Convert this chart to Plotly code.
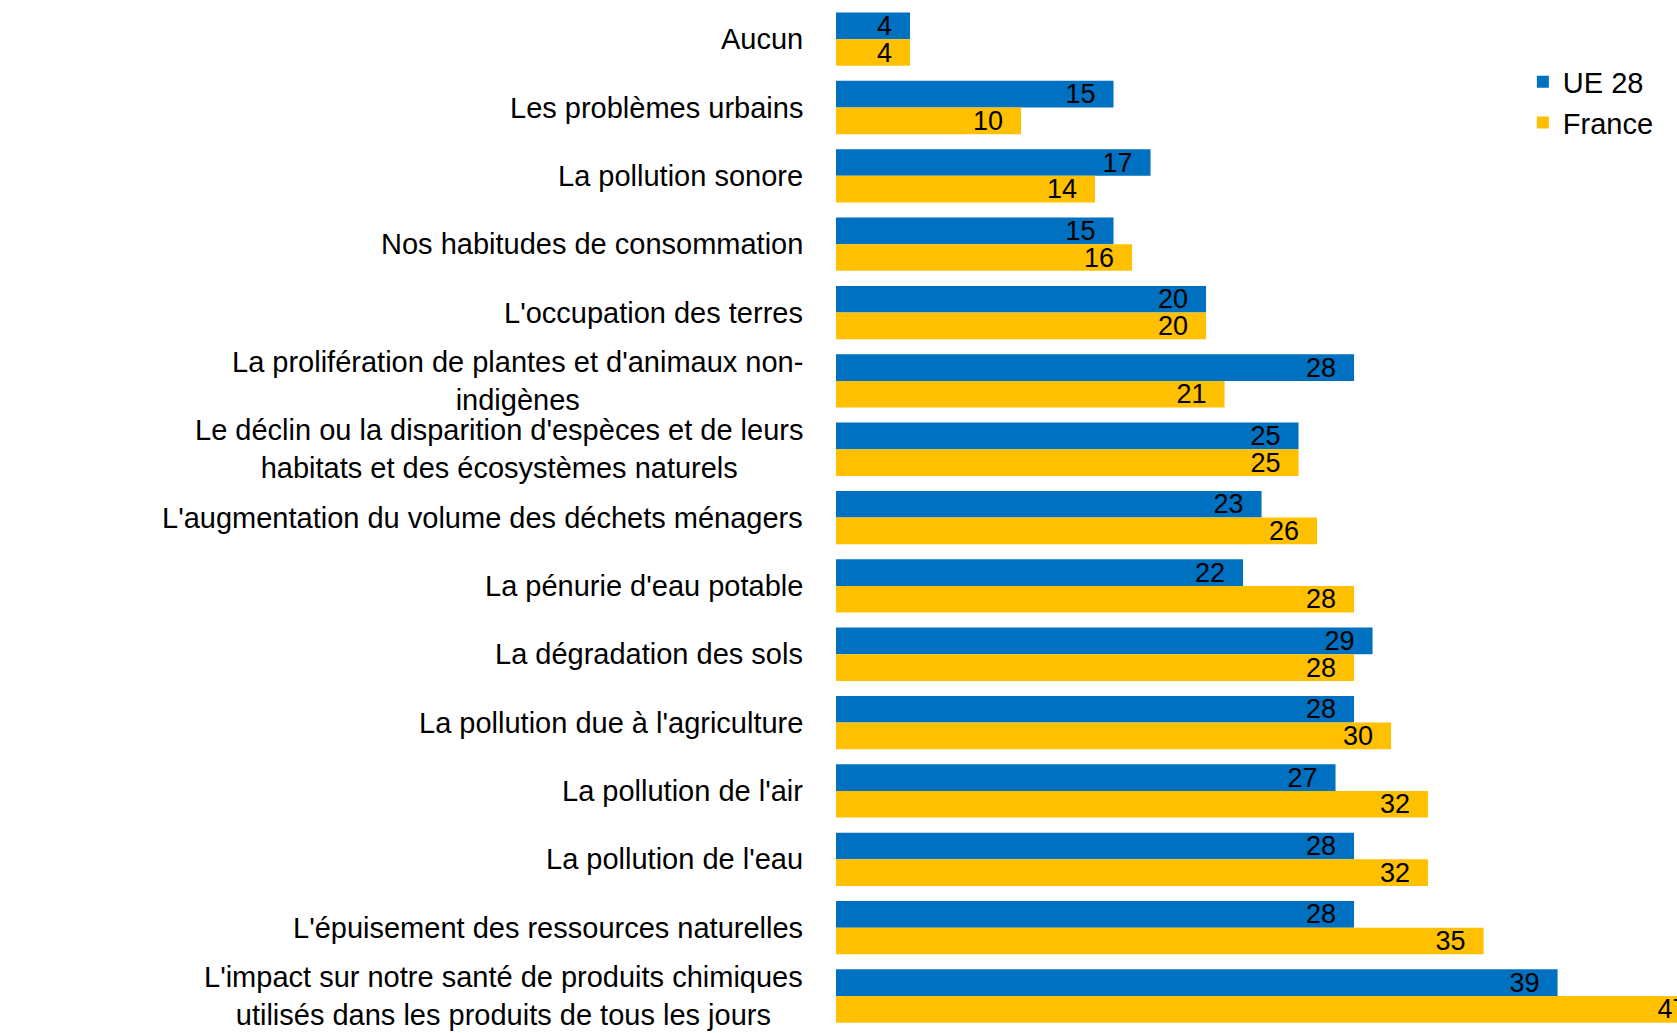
import plotly.graph_objects as go

ITEMS = [
    "Aucun",
    "Les problèmes urbains",
    "La pollution sonore",
    "Nos habitudes de consommation",
    "L'occupation des terres",
    "La prolifération de plantes et d'animaux non-<br>indigènes",
    "Le déclin ou la disparition d'espèces et de leurs<br>habitats et des écosystèmes naturels",
    "L'augmentation du volume des déchets ménagers",
    "La pénurie d'eau potable",
    "La dégradation des sols",
    "La pollution due à l'agriculture",
    "La pollution de l'air",
    "La pollution de l'eau",
    "L'épuisement des ressources naturelles",
    "L'impact sur notre santé de produits chimiques<br>utilisés dans les produits de tous les jours",
]
UE28 = [4, 15, 17, 15, 20, 28, 25, 23, 22, 29, 28, 27, 28, 28, 39]
FRANCE = [4, 10, 14, 16, 20, 21, 25, 26, 28, 28, 30, 32, 32, 35, 47]

FONT = "Liberation Sans, Arial, sans-serif"
BLUE = "#0070C0"
YELLOW = "#FFC000"

fig = go.Figure()
for name, vals, color in [("UE 28", UE28, BLUE), ("France", FRANCE, YELLOW)]:
    fig.add_trace(
        go.Bar(
            y=ITEMS,
            x=vals,
            name=name,
            orientation="h",
            marker=dict(color=color, line=dict(width=0)),
            texttemplate="%{x}\u00a0\u00a0",  # marge avant le bout de la barre
            textposition="inside",
            insidetextanchor="end",
            textangle=0,
            constraintext="none",
            textfont=dict(family=FONT, size=27, color="black"),
        )
    )

# étiquettes de catégories centrées (comme dans l'original)
for item in ITEMS:
    fig.add_annotation(
        x=0, xref="paper", y=item, yref="y",
        text=item, showarrow=False,
        xanchor="right", xshift=-31, align="center",
        font=dict(family=FONT, size=29, color="black"),
    )

# figure plus large que la fenêtre : la barre 47 est coupée par le bord droit
fig.update_layout(
    width=1720,
    height=1033,
    template="plotly_white",
    plot_bgcolor="white",
    paper_bgcolor="white",
    barmode="group",
    bargap=0.22,
    bargroupgap=0,
    margin=dict(l=836, r=0, t=5, b=0, autoexpand=False),
    font=dict(family=FONT, size=29, color="black"),
    legend=dict(
        x=0.777, y=0.95, xanchor="left", yanchor="top",
        traceorder="normal", bgcolor="rgba(0,0,0,0)",
        font=dict(family=FONT, size=29, color="black"),
    ),
)
fig.update_xaxes(range=[0, 47.78], visible=False, showgrid=False, zeroline=False)
fig.update_yaxes(
    categoryorder="array", categoryarray=ITEMS, autorange="reversed",
    showticklabels=False, showgrid=False, zeroline=False, showline=False,
)

fig.write_html(
    "out.html",
    config={"displayModeBar": False},
    post_script="document.body.style.margin='0';document.body.style.overflow='hidden';",
)
